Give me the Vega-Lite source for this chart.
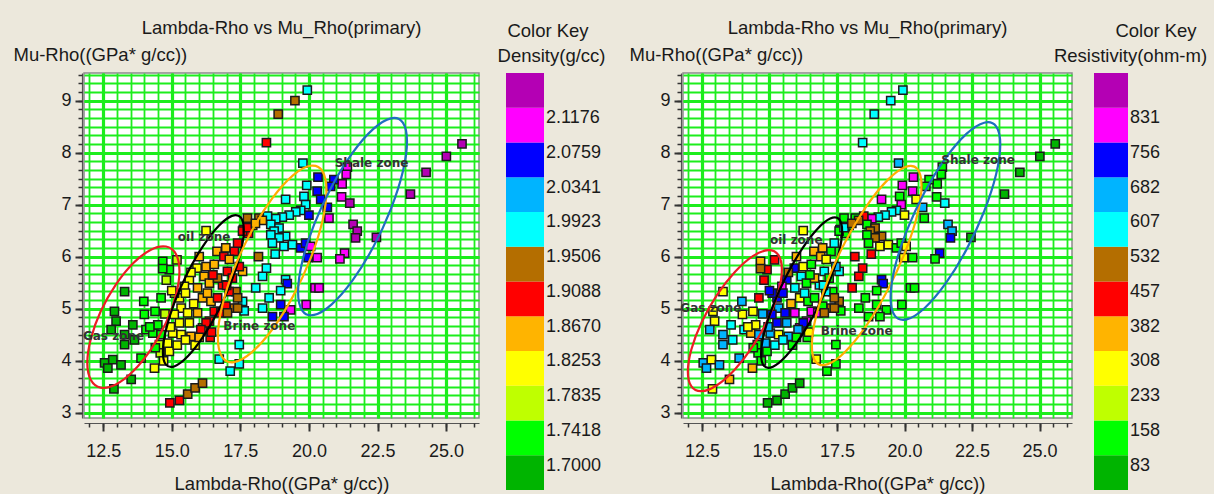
{
"$schema": "https://vega.github.io/schema/vega-lite/v6.json",
"background": "#ece8dc",
"padding": {"left": 12, "top": 17, "right": 0, "bottom": 0},
"config": {"font": "Liberation Sans", "view": {"stroke": null}},
"bounds": "flush",
"spacing": 22,
"datasets": {
"pts": [
{"x":19.94,"y":9.2,"d":8,"r":8},{"x":19.49,"y":9.0,"d":7,"r":8},{"x":18.88,"y":8.74,"d":7,"r":8},{"x":18.45,"y":8.19,"d":6,"r":8},
{"x":25.58,"y":8.17,"d":12,"r":1},{"x":25.01,"y":7.93,"d":12,"r":1},{"x":24.27,"y":7.62,"d":12,"r":1},{"x":23.7,"y":7.2,"d":12,"r":1},{"x":22.46,"y":6.37,"d":12,"r":1},
{"x":19.78,"y":7.8,"d":8,"r":9},
{"x":14.93,"y":3.19,"d":6,"r":1},{"x":15.28,"y":3.24,"d":6,"r":1},{"x":15.58,"y":3.36,"d":7,"r":1},{"x":15.85,"y":3.48,"d":7,"r":1},{"x":16.12,"y":3.57,"d":7,"r":1},
{"x":21.4,"y":7.72,"d":11,"r":2},{"x":21.36,"y":7.58,"d":11,"r":2},{"x":21.21,"y":7.4,"d":11,"r":2},{"x":20.91,"y":7.48,"d":10,"r":2},{"x":20.33,"y":7.53,"d":10,"r":11},
{"x":19.92,"y":7.37,"d":8,"r":11},{"x":20.3,"y":7.26,"d":10,"r":11},{"x":20.79,"y":7.35,"d":10,"r":2},{"x":21.19,"y":7.15,"d":11,"r":2},{"x":21.49,"y":7.03,"d":12,"r":8},
{"x":19.82,"y":7.16,"d":8,"r":2},{"x":19.15,"y":7.1,"d":8,"r":11},{"x":20.43,"y":7.1,"d":10,"r":4},{"x":20.67,"y":6.95,"d":10,"r":9},{"x":20.73,"y":6.74,"d":11,"r":2},
{"x":19.88,"y":7.0,"d":8,"r":11},{"x":19.7,"y":6.89,"d":8,"r":8},{"x":19.52,"y":6.86,"d":8,"r":8},{"x":19.28,"y":6.8,"d":8,"r":8},{"x":19.03,"y":6.76,"d":8,"r":8},
{"x":20.0,"y":6.8,"d":10,"r":4},{"x":18.79,"y":6.73,"d":8,"r":11},{"x":18.61,"y":6.62,"d":8,"r":2},{"x":18.49,"y":6.78,"d":8,"r":6},{"x":18.91,"y":6.55,"d":8,"r":7},
{"x":18.73,"y":6.49,"d":8,"r":7},{"x":19.15,"y":6.39,"d":8,"r":7},{"x":18.91,"y":6.36,"d":8,"r":7},{"x":18.61,"y":6.42,"d":8,"r":2},{"x":18.67,"y":6.26,"d":8,"r":2},
{"x":19.09,"y":6.2,"d":8,"r":4},{"x":19.4,"y":6.23,"d":8,"r":4},{"x":19.7,"y":6.17,"d":10,"r":2},{"x":19.88,"y":6.26,"d":10,"r":2},{"x":20.06,"y":6.2,"d":11,"r":4},
{"x":20.3,"y":5.98,"d":11,"r":2},{"x":19.97,"y":5.98,"d":10,"r":4},{"x":21.61,"y":6.62,"d":12,"r":9},{"x":21.76,"y":6.49,"d":12,"r":9},{"x":21.7,"y":6.36,"d":12,"r":10},
{"x":21.3,"y":6.07,"d":11,"r":10},{"x":21.13,"y":5.96,"d":11,"r":2},{"x":20.22,"y":5.4,"d":11,"r":2},{"x":20.37,"y":5.4,"d":11,"r":2},{"x":18.31,"y":5.62,"d":8,"r":6},
{"x":18.06,"y":5.4,"d":8,"r":6},{"x":19.15,"y":5.56,"d":8,"r":10},{"x":19.21,"y":5.48,"d":10,"r":10},{"x":18.97,"y":5.35,"d":8,"r":2},{"x":18.55,"y":5.21,"d":8,"r":2},
{"x":18.31,"y":5.01,"d":8,"r":2},{"x":18.97,"y":5.08,"d":10,"r":2},{"x":19.33,"y":4.98,"d":11,"r":2},{"x":18.67,"y":4.85,"d":10,"r":2},{"x":19.09,"y":4.85,"d":10,"r":2},
{"x":17.58,"y":5.14,"d":8,"r":7},{"x":17.64,"y":4.96,"d":8,"r":2},{"x":17.46,"y":4.31,"d":8,"r":2},{"x":16.73,"y":4.03,"d":8,"r":4},{"x":17.13,"y":3.8,"d":8,"r":2},
{"x":17.46,"y":3.94,"d":8,"r":2},{"x":18.45,"y":5.78,"d":8,"r":6},{"x":18.16,"y":6.0,"d":7,"r":6},{"x":17.58,"y":5.72,"d":5,"r":8},{"x":17.34,"y":5.33,"d":7,"r":2},
{"x":17.28,"y":5.01,"d":7,"r":7},{"x":18.18,"y":6.74,"d":7,"r":2},{"x":18.3,"y":6.7,"d":5,"r":7},{"x":17.95,"y":6.6,"d":5,"r":2},{"x":17.61,"y":6.52,"d":6,"r":10},
{"x":17.8,"y":6.45,"d":6,"r":2},{"x":18.77,"y":6.05,"d":8,"r":6},
{"x":14.67,"y":5.91,"d":2,"r":5},{"x":14.91,"y":5.75,"d":2,"r":6},{"x":14.67,"y":5.77,"d":2,"r":7},{"x":15.19,"y":5.94,"d":3,"r":6},{"x":13.28,"y":5.33,"d":1,"r":4},
{"x":13.98,"y":5.14,"d":2,"r":9},{"x":14.61,"y":5.21,"d":2,"r":6},{"x":14.39,"y":4.95,"d":2,"r":4},{"x":14.0,"y":4.89,"d":2,"r":4},{"x":12.91,"y":4.95,"d":1,"r":4},
{"x":12.97,"y":4.76,"d":1,"r":4},{"x":13.58,"y":4.69,"d":1,"r":8},{"x":12.79,"y":4.6,"d":1,"r":9},{"x":14.06,"y":4.6,"d":2,"r":8},{"x":14.31,"y":4.53,"d":2,"r":5},
{"x":13.28,"y":4.5,"d":1,"r":9},{"x":13.64,"y":4.4,"d":1,"r":8},{"x":13.28,"y":4.31,"d":1,"r":9},{"x":14.61,"y":4.5,"d":2,"r":9},{"x":14.49,"y":4.69,"d":2,"r":4},
{"x":13.88,"y":4.05,"d":2,"r":9},{"x":12.55,"y":3.96,"d":1,"r":9},{"x":12.85,"y":4.02,"d":1,"r":4},{"x":13.15,"y":3.92,"d":1,"r":9},{"x":12.67,"y":3.86,"d":1,"r":9},
{"x":13.52,"y":3.64,"d":1,"r":5},{"x":12.89,"y":3.46,"d":1,"r":4},{"x":14.55,"y":4.31,"d":3,"r":2},{"x":14.58,"y":4.15,"d":3,"r":2},{"x":14.37,"y":3.86,"d":4,"r":5},
{"x":14.91,"y":4.18,"d":4,"r":2},{"x":14.85,"y":4.34,"d":4,"r":9},
{"x":16.25,"y":6.5,"d":4,"r":4},{"x":16.65,"y":6.1,"d":5,"r":5},{"x":16.97,"y":6.17,"d":5,"r":5},{"x":15.92,"y":5.78,"d":4,"r":10},{"x":16.25,"y":5.81,"d":5,"r":4},
{"x":16.55,"y":5.85,"d":5,"r":2},{"x":15.64,"y":5.56,"d":4,"r":10},{"x":15.46,"y":5.43,"d":4,"r":11},{"x":16.18,"y":5.62,"d":5,"r":8},{"x":16.37,"y":5.49,"d":5,"r":2},
{"x":15.94,"y":5.4,"d":5,"r":8},{"x":15.28,"y":5.21,"d":4,"r":10},{"x":16.12,"y":5.21,"d":5,"r":4},{"x":16.43,"y":5.14,"d":5,"r":2},{"x":15.34,"y":5.01,"d":4,"r":9},
{"x":15.58,"y":4.92,"d":4,"r":10},{"x":15.94,"y":4.92,"d":5,"r":11},{"x":15.09,"y":4.89,"d":4,"r":10},{"x":15.28,"y":4.73,"d":4,"r":10},{"x":15.64,"y":4.73,"d":4,"r":9},
{"x":15.03,"y":4.53,"d":4,"r":9},{"x":15.34,"y":4.5,"d":4,"r":4},{"x":15.7,"y":4.47,"d":5,"r":9},{"x":16.12,"y":4.63,"d":5,"r":11},{"x":16.37,"y":4.76,"d":6,"r":11},
{"x":16.73,"y":4.95,"d":5,"r":2},{"x":15.5,"y":5.3,"d":4,"r":10},{"x":15.8,"y":5.1,"d":4,"r":5},{"x":15.1,"y":5.3,"d":3,"r":10},
{"x":17.28,"y":6.1,"d":6,"r":2},{"x":17.58,"y":6.49,"d":6,"r":2},{"x":17.76,"y":6.56,"d":6,"r":8},{"x":17.4,"y":6.26,"d":6,"r":8},{"x":17.03,"y":5.72,"d":6,"r":8},
{"x":17.21,"y":5.59,"d":6,"r":2},{"x":16.85,"y":5.46,"d":6,"r":8},{"x":17.46,"y":5.81,"d":6,"r":9},{"x":17.09,"y":5.33,"d":6,"r":8},{"x":16.67,"y":5.21,"d":6,"r":2},
{"x":16.55,"y":4.95,"d":6,"r":11},{"x":16.79,"y":4.92,"d":6,"r":11},{"x":16.25,"y":4.73,"d":6,"r":10},{"x":16.06,"y":4.6,"d":6,"r":9},{"x":16.97,"y":5.05,"d":6,"r":2},
{"x":17.4,"y":5.21,"d":7,"r":7},{"x":16.67,"y":5.59,"d":7,"r":5},{"x":17.03,"y":4.92,"d":7,"r":7},{"x":17.4,"y":5.01,"d":7,"r":7},{"x":16.4,"y":4.45,"d":6,"r":2},
{"x":16.9,"y":6.0,"d":6,"r":5},{"x":17.1,"y":5.95,"d":5,"r":4},{"x":17.76,"y":6.74,"d":7,"r":2},{"x":18.05,"y":6.64,"d":5,"r":7},
{"x":14.8,"y":5.55,"d":3,"r":6},{"x":15.0,"y":5.35,"d":4,"r":10},{"x":14.75,"y":4.9,"d":3,"r":9},{"x":14.95,"y":4.65,"d":4,"r":9},{"x":15.2,"y":4.3,"d":4,"r":8},
{"x":14.7,"y":4.0,"d":4,"r":2},{"x":15.5,"y":4.4,"d":4,"r":8},{"x":15.85,"y":4.3,"d":4,"r":2},{"x":16.0,"y":4.45,"d":5,"r":2},{"x":16.3,"y":5.3,"d":5,"r":8},
{"x":15.7,"y":5.7,"d":4,"r":7},{"x":16.0,"y":6.0,"d":5,"r":5},{"x":16.5,"y":5.65,"d":6,"r":2},{"x":17.0,"y":5.45,"d":6,"r":8},{"x":16.45,"y":4.55,"d":6,"r":4},
{"x":14.4,"y":4.25,"d":2,"r":2},{"x":14.2,"y":4.65,"d":2,"r":4},{"x":19.9,"y":5.08,"d":11,"r":2}
],
"ell": [
{"p":"L","e":"gas","k":0,"x":15.28,"y":5.72},{"p":"L","e":"gas","k":1,"x":15.15,"y":6.05},{"p":"L","e":"gas","k":2,"x":14.79,"y":6.195},{"p":"L","e":"gas","k":3,"x":14.24,"y":6.135},
{"p":"L","e":"gas","k":4,"x":13.6,"y":5.877},{"p":"L","e":"gas","k":5,"x":12.96,"y":5.461},{"p":"L","e":"gas","k":6,"x":12.41,"y":4.951},{"p":"L","e":"gas","k":7,"x":12.05,"y":4.424},
{"p":"L","e":"gas","k":8,"x":11.92,"y":3.96},{"p":"L","e":"gas","k":9,"x":12.05,"y":3.63},{"p":"L","e":"gas","k":10,"x":12.41,"y":3.485},{"p":"L","e":"gas","k":11,"x":12.96,"y":3.545},
{"p":"L","e":"gas","k":12,"x":13.6,"y":3.803},{"p":"L","e":"gas","k":13,"x":14.24,"y":4.219},{"p":"L","e":"gas","k":14,"x":14.79,"y":4.729},{"p":"L","e":"gas","k":15,"x":15.15,"y":5.256},
{"p":"L","e":"oil","k":0,"x":17.625,"y":6.51},{"p":"L","e":"oil","k":1,"x":17.513,"y":6.755},{"p":"L","e":"oil","k":2,"x":17.193,"y":6.784},{"p":"L","e":"oil","k":3,"x":16.715,"y":6.595},
{"p":"L","e":"oil","k":4,"x":16.15,"y":6.213},{"p":"L","e":"oil","k":5,"x":15.585,"y":5.699},{"p":"L","e":"oil","k":6,"x":15.107,"y":5.13},{"p":"L","e":"oil","k":7,"x":14.787,"y":4.593},
{"p":"L","e":"oil","k":8,"x":14.675,"y":4.17},{"p":"L","e":"oil","k":9,"x":14.787,"y":3.925},{"p":"L","e":"oil","k":10,"x":15.107,"y":3.896},{"p":"L","e":"oil","k":11,"x":15.585,"y":4.085},
{"p":"L","e":"oil","k":12,"x":16.15,"y":4.467},{"p":"L","e":"oil","k":13,"x":16.715,"y":4.981},{"p":"L","e":"oil","k":14,"x":17.193,"y":5.55},{"p":"L","e":"oil","k":15,"x":17.513,"y":6.087},
{"p":"L","e":"brine","k":0,"x":20.64,"y":7.27},{"p":"L","e":"brine","k":1,"x":20.49,"y":7.645},{"p":"L","e":"brine","k":2,"x":20.06,"y":7.747},{"p":"L","e":"brine","k":3,"x":19.418,"y":7.563},
{"p":"L","e":"brine","k":4,"x":18.66,"y":7.119},{"p":"L","e":"brine","k":5,"x":17.902,"y":6.483},{"p":"L","e":"brine","k":6,"x":17.26,"y":5.753},{"p":"L","e":"brine","k":7,"x":16.83,"y":5.039},
{"p":"L","e":"brine","k":8,"x":16.68,"y":4.45},{"p":"L","e":"brine","k":9,"x":16.83,"y":4.075},{"p":"L","e":"brine","k":10,"x":17.26,"y":3.973},{"p":"L","e":"brine","k":11,"x":17.902,"y":4.157},
{"p":"L","e":"brine","k":12,"x":18.66,"y":4.601},{"p":"L","e":"brine","k":13,"x":19.418,"y":5.237},{"p":"L","e":"brine","k":14,"x":20.06,"y":5.967},{"p":"L","e":"brine","k":15,"x":20.49,"y":6.681},
{"p":"L","e":"shale","k":0,"x":23.575,"y":8.215},{"p":"L","e":"shale","k":1,"x":23.424,"y":8.575},{"p":"L","e":"shale","k":2,"x":22.993,"y":8.659},{"p":"L","e":"shale","k":3,"x":22.35,"y":8.456},
{"p":"L","e":"shale","k":4,"x":21.59,"y":7.996},{"p":"L","e":"shale","k":5,"x":20.83,"y":7.35},{"p":"L","e":"shale","k":6,"x":20.187,"y":6.615},{"p":"L","e":"shale","k":7,"x":19.756,"y":5.905},
{"p":"L","e":"shale","k":8,"x":19.605,"y":5.325},{"p":"L","e":"shale","k":9,"x":19.756,"y":4.965},{"p":"L","e":"shale","k":10,"x":20.187,"y":4.881},{"p":"L","e":"shale","k":11,"x":20.83,"y":5.084},
{"p":"L","e":"shale","k":12,"x":21.59,"y":5.544},{"p":"L","e":"shale","k":13,"x":22.35,"y":6.19},{"p":"L","e":"shale","k":14,"x":22.993,"y":6.925},{"p":"L","e":"shale","k":15,"x":23.424,"y":7.635},
{"p":"R","e":"gas","k":0,"x":15.46,"y":5.75},{"p":"R","e":"gas","k":1,"x":15.328,"y":6.034},{"p":"R","e":"gas","k":2,"x":14.95,"y":6.125},{"p":"R","e":"gas","k":3,"x":14.386,"y":6.01},
{"p":"R","e":"gas","k":4,"x":13.72,"y":5.706},{"p":"R","e":"gas","k":5,"x":13.054,"y":5.26},{"p":"R","e":"gas","k":6,"x":12.49,"y":4.739},{"p":"R","e":"gas","k":7,"x":12.112,"y":4.222},
{"p":"R","e":"gas","k":8,"x":11.98,"y":3.79},{"p":"R","e":"gas","k":9,"x":12.112,"y":3.506},{"p":"R","e":"gas","k":10,"x":12.49,"y":3.415},{"p":"R","e":"gas","k":11,"x":13.054,"y":3.53},
{"p":"R","e":"gas","k":12,"x":13.72,"y":3.834},{"p":"R","e":"gas","k":13,"x":14.386,"y":4.28},{"p":"R","e":"gas","k":14,"x":14.95,"y":4.801},{"p":"R","e":"gas","k":15,"x":15.328,"y":5.318},
{"p":"R","e":"oil","k":0,"x":17.69,"y":6.495},{"p":"R","e":"oil","k":1,"x":17.576,"y":6.722},{"p":"R","e":"oil","k":2,"x":17.251,"y":6.733},{"p":"R","e":"oil","k":3,"x":16.765,"y":6.528},
{"p":"R","e":"oil","k":4,"x":16.19,"y":6.137},{"p":"R","e":"oil","k":5,"x":15.615,"y":5.62},{"p":"R","e":"oil","k":6,"x":15.129,"y":5.057},{"p":"R","e":"oil","k":7,"x":14.804,"y":4.532},
{"p":"R","e":"oil","k":8,"x":14.69,"y":4.125},{"p":"R","e":"oil","k":9,"x":14.804,"y":3.898},{"p":"R","e":"oil","k":10,"x":15.129,"y":3.887},{"p":"R","e":"oil","k":11,"x":15.615,"y":4.092},
{"p":"R","e":"oil","k":12,"x":16.19,"y":4.483},{"p":"R","e":"oil","k":13,"x":16.765,"y":5.0},{"p":"R","e":"oil","k":14,"x":17.251,"y":5.563},{"p":"R","e":"oil","k":15,"x":17.576,"y":6.088},
{"p":"R","e":"brine","k":0,"x":20.63,"y":7.365},{"p":"R","e":"brine","k":1,"x":20.476,"y":7.687},{"p":"R","e":"brine","k":2,"x":20.035,"y":7.725},{"p":"R","e":"brine","k":3,"x":19.377,"y":7.476},
{"p":"R","e":"brine","k":4,"x":18.6,"y":6.975},{"p":"R","e":"brine","k":5,"x":17.823,"y":6.3},{"p":"R","e":"brine","k":6,"x":17.165,"y":5.555},{"p":"R","e":"brine","k":7,"x":16.724,"y":4.851},
{"p":"R","e":"brine","k":8,"x":16.57,"y":4.295},{"p":"R","e":"brine","k":9,"x":16.724,"y":3.973},{"p":"R","e":"brine","k":10,"x":17.165,"y":3.935},{"p":"R","e":"brine","k":11,"x":17.823,"y":4.184},
{"p":"R","e":"brine","k":12,"x":18.6,"y":4.685},{"p":"R","e":"brine","k":13,"x":19.377,"y":5.36},{"p":"R","e":"brine","k":14,"x":20.035,"y":6.105},{"p":"R","e":"brine","k":15,"x":20.476,"y":6.809},
{"p":"R","e":"shale","k":0,"x":23.545,"y":8.155},{"p":"R","e":"shale","k":1,"x":23.391,"y":8.504},{"p":"R","e":"shale","k":2,"x":22.95,"y":8.575},{"p":"R","e":"shale","k":3,"x":22.292,"y":8.36},
{"p":"R","e":"shale","k":4,"x":21.515,"y":7.889},{"p":"R","e":"shale","k":5,"x":20.738,"y":7.234},{"p":"R","e":"shale","k":6,"x":20.08,"y":6.497},{"p":"R","e":"shale","k":7,"x":19.639,"y":5.788},
{"p":"R","e":"shale","k":8,"x":19.485,"y":5.215},{"p":"R","e":"shale","k":9,"x":19.639,"y":4.866},{"p":"R","e":"shale","k":10,"x":20.08,"y":4.795},{"p":"R","e":"shale","k":11,"x":20.738,"y":5.01},
{"p":"R","e":"shale","k":12,"x":21.515,"y":5.481},{"p":"R","e":"shale","k":13,"x":22.292,"y":6.136},{"p":"R","e":"shale","k":14,"x":22.95,"y":6.873},{"p":"R","e":"shale","k":15,"x":23.391,"y":7.582}
],
"zones": [
{"p":"L","t":"Gas zone","x":11.76,"y":4.47},{"p":"L","t":"oil zone","x":15.22,"y":6.37},{"p":"L","t":"Brine zone","x":16.88,"y":4.66},{"p":"L","t":"Shale zone","x":20.94,"y":7.8},
{"p":"R","t":"Gas zone","x":11.7,"y":5.01},{"p":"R","t":"oil zone","x":15.02,"y":6.33},{"p":"R","t":"Brine zone","x":16.9,"y":4.58},{"p":"R","t":"Shale zone","x":21.36,"y":7.85}
],
"keyD": [
{"c":1,"lab":"1.7000"},{"c":2,"lab":"1.7418"},{"c":3,"lab":"1.7835"},{"c":4,"lab":"1.8253"},{"c":5,"lab":"1.8670"},{"c":6,"lab":"1.9088"},
{"c":7,"lab":"1.9506"},{"c":8,"lab":"1.9923"},{"c":9,"lab":"2.0341"},{"c":10,"lab":"2.0759"},{"c":11,"lab":"2.1176"},{"c":12,"lab":""}
],
"keyR": [
{"c":1,"lab":"83"},{"c":2,"lab":"158"},{"c":3,"lab":"233"},{"c":4,"lab":"308"},{"c":5,"lab":"382"},{"c":6,"lab":"457"},
{"c":7,"lab":"532"},{"c":8,"lab":"607"},{"c":9,"lab":"682"},{"c":10,"lab":"756"},{"c":11,"lab":"831"},{"c":12,"lab":""}
]
},
"hconcat": [
{
"width": 395, "height": 345,
"view": {"fill": "white", "stroke": "#8a8a8a", "strokeWidth": 1.5},
"title": {"text": "Lambda-Rho vs Mu_Rho(primary)", "fontSize": 18.5, "fontWeight": "normal", "color": "#1a1a1a", "anchor": "middle", "frame": "group", "offset": 8},
"layer": [
{"data": {"name": "pts"},
 "mark": {"type": "square", "size": 68, "stroke": "#1a1a1a", "strokeWidth": 1.5, "opacity": 1},
 "encoding": {
  "x": {"field": "x", "type": "quantitative", "scale": {"domain": [11.8, 26.2], "nice": false, "zero": false},
   "axis": {"values": [12.5,15,17.5,20,22.5,25], "format": ".1f", "orient": "bottom", "offset": 5, "grid": true, "gridColor": "#1ded1d", "gridWidth": 3.2, "gridOpacity": 1, "domain": true, "domainColor": "#555", "domainWidth": 1.2, "ticks": true, "tickSize": 8, "tickWidth": 2, "tickColor": "#333", "labelFontSize": 18, "labelColor": "#1a1a1a", "labelPadding": 11, "labelFlush": false, "labelOverlap": false, "title": "Lambda-Rho((GPa* g/cc))", "titleFontSize": 18.5, "titleFontWeight": "normal", "titleColor": "#1a1a1a", "titlePadding": 14}},
  "y": {"field": "y", "type": "quantitative", "scale": {"domain": [2.9, 9.53], "nice": false, "zero": false},
   "axis": {"values": [3,4,5,6,7,8,9], "orient": "left", "offset": 2, "grid": true, "gridColor": "#1ded1d", "gridWidth": 3.2, "gridOpacity": 1, "domain": true, "domainColor": "#555", "domainWidth": 1.2, "ticks": true, "tickSize": 7, "tickWidth": 2, "tickColor": "#333", "labelFontSize": 18, "labelColor": "#1a1a1a", "labelPadding": 4, "labelFlush": false, "labelOverlap": false, "title": "Mu-Rho((GPa* g/cc))", "titleAngle": 0, "titleAlign": "left", "titleBaseline": "middle", "titleX": -69, "titleY": -19, "titleFontSize": 18.5, "titleFontWeight": "normal", "titleColor": "#1a1a1a"}},
  "fill": {"field": "d", "type": "ordinal", "scale": {"domain": [1,2,3,4,5,6,7,8,9,10,11,12], "range": ["#00b400","#00ff00","#bfff00","#ffff00","#ffb400","#ff0000","#b46e00","#00ffff","#00b4ff","#0000ff","#ff00ff","#b400b4"]}, "legend": null}
 }},
{"data": {"name": "ell"}, "transform": [{"filter": "datum.p == 'L'"}],
 "mark": {"type": "line", "interpolate": "cardinal-closed", "strokeWidth": 2.2},
 "encoding": {
  "x": {"field": "x", "type": "quantitative", "scale": {"domain": [11.8, 26.2], "nice": false, "zero": false},
   "axis": {"values": [12,12.5,13,13.5,14,14.5,15,15.5,16,16.5,17,17.5,18,18.5,19,19.5,20,20.5,21,21.5,22,22.5,23,23.5,24,24.5,25,25.5,26], "orient": "bottom", "offset": 5, "grid": true, "gridColor": "#1ded1d", "gridWidth": 1.8, "gridOpacity": 1, "domain": false, "ticks": true, "tickSize": 4, "tickWidth": 1.5, "tickColor": "#333", "labels": false, "title": null}},
  "y": {"field": "y", "type": "quantitative", "scale": {"domain": [2.9, 9.53], "nice": false, "zero": false},
   "axis": {"values": [3,3.1667,3.3333,3.5,3.6667,3.8333,4,4.1667,4.3333,4.5,4.6667,4.8333,5,5.1667,5.3333,5.5,5.6667,5.8333,6,6.1667,6.3333,6.5,6.6667,6.8333,7,7.1667,7.3333,7.5,7.6667,7.8333,8,8.1667,8.3333,8.5,8.6667,8.8333,9,9.1667,9.3333,9.5], "orient": "left", "offset": 2, "grid": true, "gridColor": "#1ded1d", "gridWidth": 1.8, "gridOpacity": 1, "domain": false, "ticks": true, "tickSize": 4, "tickWidth": 1.5, "tickColor": "#333", "labels": false, "title": null}},
  "order": {"field": "k", "type": "quantitative"},
  "stroke": {"field": "e", "type": "nominal", "scale": {"domain": ["gas","oil","brine","shale"], "range": ["#ee1c24","#000000","#ffad00","#1f6fc0"]}, "legend": null}
 }},
{"data": {"name": "zones"}, "transform": [{"filter": "datum.p == 'L'"}],
 "mark": {"type": "text", "font": "DejaVu Sans", "fontWeight": "bold", "fontSize": 12, "align": "left", "baseline": "middle", "color": "#333333"},
 "encoding": {
  "x": {"field": "x", "type": "quantitative", "scale": {"domain": [11.8, 26.2], "nice": false, "zero": false}, "axis": null},
  "y": {"field": "y", "type": "quantitative", "scale": {"domain": [2.9, 9.53], "nice": false, "zero": false}, "axis": null},
  "text": {"field": "t"}
 }}
],
"resolve": {"axis": {"x": "independent", "y": "independent"}}
},
{
"width": 160, "height": 417,
"view": {"stroke": null},
"title": {"text": "Color Key", "fontSize": 18.5, "fontWeight": "normal", "color": "#1a1a1a", "anchor": "middle", "frame": "group", "dx": -33, "offset": 6},
"data": {"name": "keyD"},
"layer": [
{"mark": {"type": "rect"},
 "encoding": {
  "y": {"field": "c", "type": "ordinal", "sort": "descending", "scale": {"paddingInner": 0, "paddingOuter": 0}, "axis": null},
  "x": {"datum": 0, "type": "quantitative", "scale": {"domain": [-0.1316, 4.079], "nice": false, "zero": false},
   "axis": {"orient": "top", "domain": false, "ticks": false, "labels": false, "grid": false, "title": "Density(g/cc)", "titleFontSize": 18.5, "titleFontWeight": "normal", "titleColor": "#1a1a1a", "titleX": 50, "titleY": -12, "titleAlign": "center", "titleBaseline": "alphabetic", "titleAngle": 0}},
  "x2": {"datum": 1},
  "fill": {"field": "c", "type": "ordinal", "scale": {"domain": [1,2,3,4,5,6,7,8,9,10,11,12], "range": ["#00b400","#00ff00","#bfff00","#ffff00","#ffb400","#ff0000","#b46e00","#00ffff","#00b4ff","#0000ff","#ff00ff","#b400b4"]}, "legend": null}
 }},
{"mark": {"type": "text", "align": "left", "baseline": "middle", "dx": 2, "dy": -7, "fontSize": 18, "color": "#1a1a1a"},
 "encoding": {
  "y": {"field": "c", "type": "ordinal", "sort": "descending", "axis": null},
  "x": {"datum": 1, "type": "quantitative",
   "axis": {"orient": "top", "domain": false, "ticks": false, "labels": false, "grid": false, "title": "Density(g/cc)", "titleFontSize": 18.5, "titleFontWeight": "normal", "titleColor": "#1a1a1a", "titleX": 50, "titleY": -12, "titleAlign": "center", "titleBaseline": "alphabetic", "titleAngle": 0}},
  "text": {"field": "lab"}
 }}
]
},
{
"width": 389, "height": 345,
"view": {"fill": "white", "stroke": "#8a8a8a", "strokeWidth": 1.5},
"title": {"text": "Lambda-Rho vs Mu_Rho(primary)", "fontSize": 18.5, "fontWeight": "normal", "color": "#1a1a1a", "anchor": "middle", "frame": "group", "offset": 8, "dx": -10},
"layer": [
{"data": {"name": "pts"},
 "mark": {"type": "square", "size": 68, "stroke": "#1a1a1a", "strokeWidth": 1.5, "opacity": 1},
 "encoding": {
  "x": {"field": "x", "type": "quantitative", "scale": {"domain": [11.8, 26.2], "nice": false, "zero": false},
   "axis": {"values": [12.5,15,17.5,20,22.5,25], "format": ".1f", "orient": "bottom", "offset": 5, "grid": true, "gridColor": "#1ded1d", "gridWidth": 3.2, "gridOpacity": 1, "domain": true, "domainColor": "#555", "domainWidth": 1.2, "ticks": true, "tickSize": 8, "tickWidth": 2, "tickColor": "#333", "labelFontSize": 18, "labelColor": "#1a1a1a", "labelPadding": 11, "labelFlush": false, "labelOverlap": false, "title": "Lambda-Rho((GPa* g/cc))", "titleFontSize": 18.5, "titleFontWeight": "normal", "titleColor": "#1a1a1a", "titlePadding": 14}},
  "y": {"field": "y", "type": "quantitative", "scale": {"domain": [2.9, 9.53], "nice": false, "zero": false},
   "axis": {"values": [3,4,5,6,7,8,9], "orient": "left", "offset": 2, "grid": true, "gridColor": "#1ded1d", "gridWidth": 3.2, "gridOpacity": 1, "domain": true, "domainColor": "#555", "domainWidth": 1.2, "ticks": true, "tickSize": 7, "tickWidth": 2, "tickColor": "#333", "labelFontSize": 18, "labelColor": "#1a1a1a", "labelPadding": 4, "labelFlush": false, "labelOverlap": false, "title": "Mu-Rho((GPa* g/cc))", "titleAngle": 0, "titleAlign": "left", "titleBaseline": "middle", "titleX": -52, "titleY": -19, "titleFontSize": 18.5, "titleFontWeight": "normal", "titleColor": "#1a1a1a"}},
  "fill": {"field": "r", "type": "ordinal", "scale": {"domain": [1,2,3,4,5,6,7,8,9,10,11,12], "range": ["#00b400","#00ff00","#bfff00","#ffff00","#ffb400","#ff0000","#b46e00","#00ffff","#00b4ff","#0000ff","#ff00ff","#b400b4"]}, "legend": null}
 }},
{"data": {"name": "ell"}, "transform": [{"filter": "datum.p == 'R'"}],
 "mark": {"type": "line", "interpolate": "cardinal-closed", "strokeWidth": 2.2},
 "encoding": {
  "x": {"field": "x", "type": "quantitative", "scale": {"domain": [11.8, 26.2], "nice": false, "zero": false},
   "axis": {"values": [12,12.5,13,13.5,14,14.5,15,15.5,16,16.5,17,17.5,18,18.5,19,19.5,20,20.5,21,21.5,22,22.5,23,23.5,24,24.5,25,25.5,26], "orient": "bottom", "offset": 5, "grid": true, "gridColor": "#1ded1d", "gridWidth": 1.8, "gridOpacity": 1, "domain": false, "ticks": true, "tickSize": 4, "tickWidth": 1.5, "tickColor": "#333", "labels": false, "title": null}},
  "y": {"field": "y", "type": "quantitative", "scale": {"domain": [2.9, 9.53], "nice": false, "zero": false},
   "axis": {"values": [3,3.1667,3.3333,3.5,3.6667,3.8333,4,4.1667,4.3333,4.5,4.6667,4.8333,5,5.1667,5.3333,5.5,5.6667,5.8333,6,6.1667,6.3333,6.5,6.6667,6.8333,7,7.1667,7.3333,7.5,7.6667,7.8333,8,8.1667,8.3333,8.5,8.6667,8.8333,9,9.1667,9.3333,9.5], "orient": "left", "offset": 2, "grid": true, "gridColor": "#1ded1d", "gridWidth": 1.8, "gridOpacity": 1, "domain": false, "ticks": true, "tickSize": 4, "tickWidth": 1.5, "tickColor": "#333", "labels": false, "title": null}},
  "order": {"field": "k", "type": "quantitative"},
  "stroke": {"field": "e", "type": "nominal", "scale": {"domain": ["gas","oil","brine","shale"], "range": ["#ee1c24","#000000","#ffad00","#1f6fc0"]}, "legend": null}
 }},
{"data": {"name": "zones"}, "transform": [{"filter": "datum.p == 'R'"}],
 "mark": {"type": "text", "font": "DejaVu Sans", "fontWeight": "bold", "fontSize": 12, "align": "left", "baseline": "middle", "color": "#333333"},
 "encoding": {
  "x": {"field": "x", "type": "quantitative", "scale": {"domain": [11.8, 26.2], "nice": false, "zero": false}, "axis": null},
  "y": {"field": "y", "type": "quantitative", "scale": {"domain": [2.9, 9.53], "nice": false, "zero": false}, "axis": null},
  "text": {"field": "t"}
 }}
],
"resolve": {"axis": {"x": "independent", "y": "independent"}}
},
{
"width": 120, "height": 417,
"view": {"stroke": null},
"title": {"text": "Color Key", "fontSize": 18.5, "fontWeight": "normal", "color": "#1a1a1a", "anchor": "middle", "frame": "group", "dx": 2, "offset": 6},
"data": {"name": "keyR"},
"layer": [
{"mark": {"type": "rect"},
 "encoding": {
  "y": {"field": "c", "type": "ordinal", "sort": "descending", "scale": {"paddingInner": 0, "paddingOuter": 0}, "axis": null},
  "x": {"datum": 0, "type": "quantitative", "scale": {"domain": [0, 3.529], "nice": false, "zero": false},
   "axis": {"orient": "top", "domain": false, "ticks": false, "labels": false, "grid": false, "title": "Resistivity(ohm-m)", "titleFontSize": 18.5, "titleFontWeight": "normal", "titleColor": "#1a1a1a", "titleX": 36, "titleY": -12, "titleAlign": "center", "titleBaseline": "alphabetic", "titleAngle": 0}},
  "x2": {"datum": 1},
  "fill": {"field": "c", "type": "ordinal", "scale": {"domain": [1,2,3,4,5,6,7,8,9,10,11,12], "range": ["#00b400","#00ff00","#bfff00","#ffff00","#ffb400","#ff0000","#b46e00","#00ffff","#00b4ff","#0000ff","#ff00ff","#b400b4"]}, "legend": null}
 }},
{"mark": {"type": "text", "align": "left", "baseline": "middle", "dx": 2, "dy": -7, "fontSize": 18, "color": "#1a1a1a"},
 "encoding": {
  "y": {"field": "c", "type": "ordinal", "sort": "descending", "axis": null},
  "x": {"datum": 1, "type": "quantitative",
   "axis": {"orient": "top", "domain": false, "ticks": false, "labels": false, "grid": false, "title": "Resistivity(ohm-m)", "titleFontSize": 18.5, "titleFontWeight": "normal", "titleColor": "#1a1a1a", "titleX": 36, "titleY": -12, "titleAlign": "center", "titleBaseline": "alphabetic", "titleAngle": 0}},
  "text": {"field": "lab"}
 }}
]
}
]
}
